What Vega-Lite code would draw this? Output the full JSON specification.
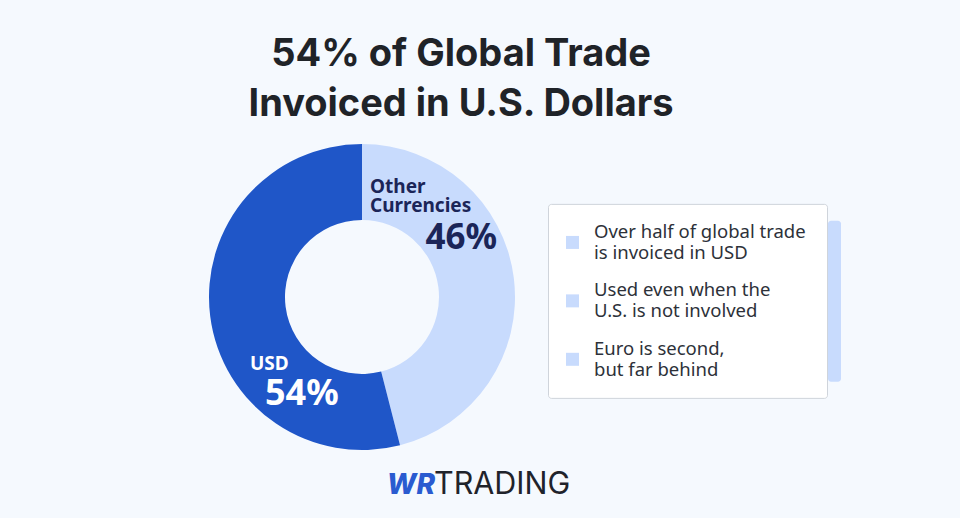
{
  "$schema": "https://vega.github.io/schema/vega-lite/v6.json",
  "background": "#f5f9fe",
  "padding": {"left": 208, "right": 121, "top": 0, "bottom": 0},
  "config": {"view": {"stroke": null}},
  "spacing": 0,
  "vconcat": [
    {
      "width": 544,
      "height": 142,
      "data": {"values": [{"title": "54% of Global Trade\nInvoiced in U.S. Dollars"}]},
      "mark": {"type": "text", "font": "Inter", "fontSize": 38, "fontWeight": 700, "color": "#1f2328", "lineBreak": "\n", "lineHeight": 50, "baseline": "middle", "dx": -19, "dy": -16},
      "encoding": {"text": {"field": "title"}}
    },
    {
      "spacing": 31,
      "center": true,
      "hconcat": [
        {
          "width": 308,
          "height": 318,
          "data": {"values": [
            {"currency": "Other Currencies", "label": "Other\nCurrencies", "share": 0.46, "order": 1},
            {"currency": "USD", "label": "USD", "share": 0.54, "order": 2}
          ]},
          "layer": [
            {
              "mark": {"type": "arc", "innerRadius": 77, "outerRadius": 153, "stroke": null, "yOffset": -4},
              "encoding": {
                "theta": {"field": "share", "type": "quantitative", "stack": true},
                "order": {"field": "order", "type": "quantitative"},
                "color": {"field": "currency", "type": "nominal", "scale": {"domain": ["Other Currencies", "USD"], "range": ["#c8dbfd", "#1f56c8"]}, "legend": null}
              }
            },
            {
              "transform": [{"filter": "datum.currency === 'Other Currencies'"}],
              "mark": {"type": "text", "font": "Noto Sans", "fontSize": 19, "fontWeight": 700, "color": "#1b2558", "align": "left", "baseline": "alphabetic", "lineBreak": "\n", "lineHeight": 19, "dx": 8, "dy": -108},
              "encoding": {"text": {"field": "label"}}
            },
            {
              "transform": [{"filter": "datum.currency === 'Other Currencies'"}],
              "mark": {"type": "text", "font": "Noto Sans", "fontSize": 35, "fontWeight": 700, "color": "#1b2558", "align": "right", "baseline": "alphabetic", "dx": 135, "dy": -52},
              "encoding": {"text": {"field": "share", "type": "quantitative", "format": ".0%"}}
            },
            {
              "transform": [{"filter": "datum.currency === 'USD'"}],
              "mark": {"type": "text", "font": "Noto Sans", "fontSize": 19, "fontWeight": 700, "color": "#ffffff", "align": "left", "baseline": "alphabetic", "dx": -112, "dy": 69},
              "encoding": {"text": {"field": "label"}}
            },
            {
              "transform": [{"filter": "datum.currency === 'USD'"}],
              "mark": {"type": "text", "font": "Noto Sans", "fontSize": 36, "fontWeight": 700, "color": "#ffffff", "align": "left", "baseline": "alphabetic", "dx": -97, "dy": 104},
              "encoding": {"text": {"field": "share", "type": "quantitative", "format": ".0%"}}
            }
          ]
        },
        {
          "spacing": 0,
          "center": true,
          "hconcat": [
            {
              "width": 279,
              "height": 194,
              "view": {"fill": "#ffffff", "stroke": "#cfd4db", "strokeWidth": 1, "cornerRadius": 3},
              "data": {"values": [
                {"item": 1, "text": "Over half of global trade\nis invoiced in USD"},
                {"item": 2, "text": "Used even when the\nU.S. is not involved"},
                {"item": 3, "text": "Euro is second,\nbut far behind"}
              ]},
              "layer": [
                {
                  "mark": {"type": "point", "shape": "square", "filled": true, "size": 169, "color": "#c8dbfd", "opacity": 1, "xOffset": -115},
                  "encoding": {"y": {"field": "item", "type": "ordinal", "scale": {"type": "point", "padding": 0.66}, "axis": null}}
                },
                {
                  "mark": {"type": "text", "font": "Noto Sans", "fontSize": 18.5, "color": "#2d3139", "align": "left", "baseline": "middle", "lineBreak": "\n", "lineHeight": 21, "dx": -93.5, "dy": -10.5},
                  "encoding": {
                    "y": {"field": "item", "type": "ordinal", "scale": {"type": "point", "padding": 0.66}, "axis": null},
                    "text": {"field": "text"}
                  }
                }
              ]
            },
            {
              "width": 13,
              "height": 161,
              "data": {"values": [{}]},
              "mark": {"type": "rect", "color": "#c8dbfd", "cornerRadius": 3},
              "encoding": {}
            }
          ]
        }
      ]
    },
    {
      "width": 544,
      "height": 58,
      "data": {"values": [{"brand": "WR", "name": "TRADING"}]},
      "layer": [
        {
          "mark": {"type": "text", "font": "Inter", "fontSize": 28, "fontWeight": 800, "fontStyle": "italic", "color": "#2a5bd0", "align": "right", "baseline": "alphabetic", "dx": -45, "dy": 5},
          "encoding": {"text": {"field": "brand"}}
        },
        {
          "mark": {"type": "text", "font": "Inter", "fontSize": 30.5, "fontWeight": 400, "color": "#1f232b", "align": "left", "baseline": "alphabetic", "dx": -46, "dy": 5},
          "encoding": {"text": {"field": "name"}}
        }
      ]
    }
  ]
}
